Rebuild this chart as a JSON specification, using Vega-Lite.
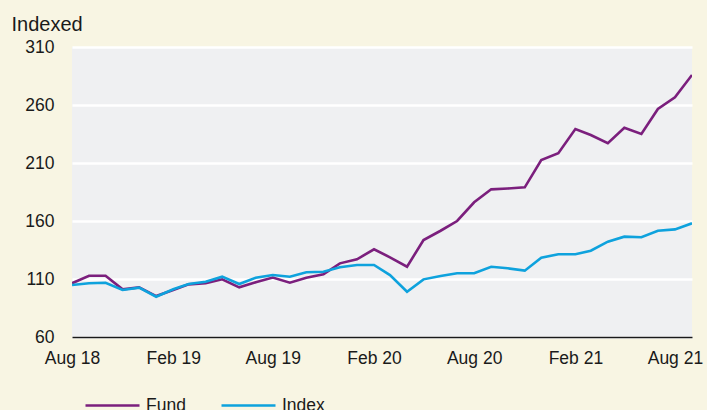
{
  "$schema": "https://vega.github.io/schema/vega-lite/v6.json",
  "width": 620,
  "height": 290,
  "autosize": {"type": "none"},
  "padding": {"left": 72, "top": 47, "right": 15, "bottom": 73},
  "background": "#f8f5e3",
  "config": {
    "view": {"fill": "#eff0f2", "stroke": null},
    "font": "Liberation Sans"
  },
  "data": {
    "values": [
      {"date": "2018-08-01", "Fund": 106.3, "Index": 104.8},
      {"date": "2018-09-01", "Fund": 112.8, "Index": 106.3},
      {"date": "2018-10-01", "Fund": 112.8, "Index": 106.8},
      {"date": "2018-11-01", "Fund": 101.1, "Index": 100.5},
      {"date": "2018-12-01", "Fund": 102.8, "Index": 102.5},
      {"date": "2019-01-01", "Fund": 95.3, "Index": 94.7},
      {"date": "2019-02-01", "Fund": 100.5, "Index": 101.1},
      {"date": "2019-03-01", "Fund": 105.4, "Index": 105.7},
      {"date": "2019-04-01", "Fund": 106.3, "Index": 107.7},
      {"date": "2019-05-01", "Fund": 109.7, "Index": 112.0},
      {"date": "2019-06-01", "Fund": 102.8, "Index": 105.7},
      {"date": "2019-07-01", "Fund": 107.2, "Index": 111.1},
      {"date": "2019-08-01", "Fund": 111.3, "Index": 113.4},
      {"date": "2019-09-01", "Fund": 106.8, "Index": 112.0},
      {"date": "2019-10-01", "Fund": 111.1, "Index": 115.8},
      {"date": "2019-11-01", "Fund": 114.1, "Index": 116.3},
      {"date": "2019-12-01", "Fund": 123.5, "Index": 120.1},
      {"date": "2020-01-01", "Fund": 127.0, "Index": 122.1},
      {"date": "2020-02-01", "Fund": 135.6, "Index": 122.1},
      {"date": "2020-03-01", "Fund": 128.7, "Index": 113.4},
      {"date": "2020-04-01", "Fund": 120.6, "Index": 99.0},
      {"date": "2020-05-01", "Fund": 143.6, "Index": 109.7},
      {"date": "2020-06-01", "Fund": 151.6, "Index": 112.6},
      {"date": "2020-07-01", "Fund": 160.0, "Index": 114.9},
      {"date": "2020-08-01", "Fund": 176.1, "Index": 114.9},
      {"date": "2020-09-01", "Fund": 187.3, "Index": 120.6},
      {"date": "2020-10-01", "Fund": 188.0, "Index": 119.2},
      {"date": "2020-11-01", "Fund": 189.0, "Index": 117.2},
      {"date": "2020-12-01", "Fund": 212.6, "Index": 128.4},
      {"date": "2021-01-01", "Fund": 218.4, "Index": 131.3},
      {"date": "2021-02-01", "Fund": 239.3, "Index": 131.3},
      {"date": "2021-03-01", "Fund": 234.1, "Index": 134.4},
      {"date": "2021-04-01", "Fund": 227.0, "Index": 142.2},
      {"date": "2021-05-01", "Fund": 240.4, "Index": 146.5},
      {"date": "2021-06-01", "Fund": 235.0, "Index": 146.0},
      {"date": "2021-07-01", "Fund": 256.6, "Index": 151.6},
      {"date": "2021-08-01", "Fund": 266.6, "Index": 152.8},
      {"date": "2021-09-01", "Fund": 285.9, "Index": 158.0}
    ]
  },
  "transform": [{"fold": ["Fund", "Index"], "as": ["series", "value"]}],
  "mark": {"type": "line", "strokeWidth": 2.6, "clip": true},
  "encoding": {
    "x": {
      "field": "date",
      "type": "temporal",
      "scale": {"type": "utc", "domain": [{"year": 2018, "month": 8, "date": 1, "utc": true}, {"year": 2021, "month": 9, "date": 1, "utc": true}], "nice": false},
      "axis": {
        "title": null,
        "values": [
          {"year": 2018, "month": 8, "date": 1, "utc": true},
          {"year": 2019, "month": 2, "date": 1, "utc": true},
          {"year": 2019, "month": 8, "date": 1, "utc": true},
          {"year": 2020, "month": 2, "date": 1, "utc": true},
          {"year": 2020, "month": 8, "date": 1, "utc": true},
          {"year": 2021, "month": 2, "date": 1, "utc": true},
          {"year": 2021, "month": 8, "date": 1, "utc": true}
        ],
        "labelExpr": "utcFormat(datum.value, '%b %y')",
        "grid": false,
        "ticks": false,
        "domain": true,
        "domainColor": "#1a1a1a",
        "domainWidth": 1.5,
        "labelFont": "Liberation Sans",
        "labelFontSize": 17.5,
        "labelColor": "#1a1a1a",
        "labelPadding": 12,
        "labelFlush": false
      }
    },
    "y": {
      "field": "value",
      "type": "quantitative",
      "scale": {"domain": [60, 310], "nice": false, "zero": false},
      "axis": {
        "values": [60, 110, 160, 210, 260, 310],
        "title": "Indexed",
        "titleAngle": 0,
        "titleAlign": "left",
        "titleBaseline": "alphabetic",
        "titleX": -61,
        "titleY": -17,
        "titleFont": "Liberation Sans",
        "titleFontSize": 20,
        "titleFontWeight": "normal",
        "titleColor": "#1a1a1a",
        "domain": false,
        "ticks": false,
        "grid": true,
        "gridColor": "#ffffff",
        "gridWidth": 2.5,
        "gridOpacity": 1,
        "labelFont": "Liberation Sans",
        "labelFontSize": 17.5,
        "labelColor": "#1a1a1a",
        "labelPadding": 18
      }
    },
    "color": {
      "field": "series",
      "type": "nominal",
      "scale": {"domain": ["Fund", "Index"], "range": ["#7b1f7d", "#0ea2dd"]},
      "legend": {
        "title": null,
        "orient": "none",
        "direction": "horizontal",
        "legendX": 12,
        "legendY": 330,
        "symbolType": "stroke",
        "symbolSize": 2916,
        "symbolStrokeWidth": 2.6,
        "labelFont": "Liberation Sans",
        "labelFontSize": 17.5,
        "labelColor": "#1a1a1a",
        "labelOffset": 5,
        "columnPadding": 30
      }
    }
  }
}
